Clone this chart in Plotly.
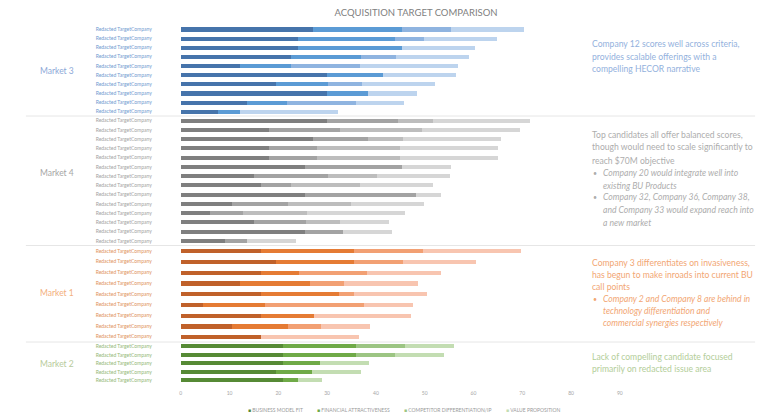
import plotly.graph_objects as go
from plotly.subplots import make_subplots

# ---------------- data ----------------
markets = ["Market 3", "Market 4", "Market 1", "Market 2"]
criteria = ["BUSINESS MODEL FIT", "FINANCIAL ATTRACTIVENESS",
            "COMPETITOR DIFFERENTIATION/IP", "VALUE PROPOSITION"]
company_label = "Redacted TargetCompany"

m3_bmf = [27, 24, 24, 22.5, 12, 30, 19.5, 30, 13.5, 7.5]
m3_fin = [18.2, 19.8, 21.2, 14.4, 10.6, 11.4, 10.7, 8.4, 8.3, 4.6]
m3_cmp = [10.1, 6, 0, 7.1, 14.1, 0, 6.9, 0, 14, 0]
m3_val = [15, 15, 15, 15, 20, 15, 15, 10, 10, 20]

m4_bmf = [30, 18, 27, 18, 18, 25.5, 15, 16.5, 25.5, 10.5, 6, 15, 25.5, 9]
m4_fin = [14.5, 14.5, 11.4, 9.9, 9.9, 19.8, 15.2, 6.1, 22.7, 11.4, 6.8, 10.6, 7.7, 4.5]
m4_cmp = [7.1, 16.9, 7.1, 17, 17, 0, 9.9, 14.1, 0, 12.9, 13.1, 7, 0, 0]
m4_val = [20, 20, 20, 20, 20, 10, 15, 15, 5, 15, 20, 10, 10, 10]

m1_bmf = [16.5, 19.5, 16.5, 12, 16.5, 4.5, 16.5, 10.5, 16.5]
m1_fin = [18.9, 15.9, 7.6, 14.5, 15.9, 12.8, 10.7, 11.4, 0]
m1_cmp = [14.2, 10.1, 14.1, 7, 3, 20.2, 0, 6.9, 0]
m1_val = [20, 15, 15, 15, 15, 10, 20, 10, 20]

m2_bmf = [21, 21, 21, 19.5, 21]
m2_fin = [14.9, 14.9, 7.5, 7.4, 2.9]
m2_cmp = [10, 8, 0, 0, 0]
m2_val = [10, 10, 10, 10, 5]

x_ticks = [0, 10, 20, 30, 40, 50, 60, 70, 80, 90]

# ---------------- styles ----------------
W, H = 782, 417
FONT = "Lato"

def px(x):
    return x / W

def py(y):
    return 1 - y / H

series = {
    "Market 3": [m3_bmf, m3_fin, m3_cmp, m3_val],
    "Market 4": [m4_bmf, m4_fin, m4_cmp, m4_val],
    "Market 1": [m1_bmf, m1_fin, m1_cmp, m1_val],
    "Market 2": [m2_bmf, m2_fin, m2_cmp, m2_val],
}
bar_colors = {
    "Market 3": ["#4674AB", "#5B9BD5", "#8FB4E0", "#BDD4EE"],
    "Market 4": ["#7F7F7F", "#A3A3A3", "#BDBDBD", "#D6D6D6"],
    "Market 1": ["#C0612A", "#E57B34", "#F2A073", "#F8C5B0"],
    "Market 2": ["#568A35", "#6FAA47", "#9CC583", "#C3DDB2"],
}
label_colors = {"Market 3": "#6F9AD0", "Market 4": "#A3A3A3",
                "Market 1": "#E0925C", "Market 2": "#93B878"}
market_colors = {"Market 3": "#8DA9D8", "Market 4": "#A6A6A6",
                 "Market 1": "#F3AF80", "Market 2": "#B7CB9C"}
note_colors = {"Market 3": "#93B1DD", "Market 4": "#ADADAD",
               "Market 1": "#F2A673", "Market 2": "#B3CE99"}
# vertical extent (px, top/bottom) of each market block
blocks = {"Market 3": (24.7, 116), "Market 4": (116, 245.5),
          "Market 1": (245.5, 342), "Market 2": (342, 384.5)}
market_label_y = {"Market 3": 71, "Market 4": 173, "Market 1": 293, "Market 2": 364}
BAR_PX = 4.2
X0, X1 = 180.7, 622

fig = make_subplots(rows=4, cols=1, shared_xaxes=True, vertical_spacing=0)

for r, m in enumerate(markets, start=1):
    vals = series[m]
    n = len(vals[0])
    top, bot = blocks[m]
    spacing = (bot - top) / n
    for k, crit in enumerate(criteria):
        fig.add_trace(go.Bar(
            x=vals[k], y=list(range(n)), orientation="h",
            name=crit, marker=dict(color=bar_colors[m][k], line=dict(width=0)),
            width=BAR_PX / spacing, showlegend=False,
            hovertemplate=m + " · " + crit + ": %{x}<extra></extra>",
        ), row=r, col=1)
    yname = "yaxis" if r == 1 else f"yaxis{r}"
    fig.update_layout({yname: dict(
        domain=[py(bot), py(top)], range=[n - 0.5, -0.5],
        tickvals=list(range(n)), ticktext=[company_label] * n,
        tickfont=dict(family=FONT, size=5, color=label_colors[m]),
        ticks="", showgrid=False, zeroline=False, showline=False,
        ticklabelstandoff=28,
    )})
    xname = "xaxis" if r == 1 else f"xaxis{r}"
    fig.update_layout({xname: dict(
        domain=[px(X0), px(X1)], range=[0, 90], tickvals=x_ticks,
        showgrid=False, zeroline=False, showline=False, ticks="",
        showticklabels=(r == 4),
        tickfont=dict(family=FONT, size=5, color="#A6A6A6"),
        ticklabelstandoff=4,
    )})

shapes = []
for m in ["Market 4", "Market 1", "Market 2"]:
    y = blocks[m][0]
    shapes.append(dict(type="line", xref="paper", yref="paper",
                       x0=px(25), x1=px(758), y0=py(y), y1=py(y),
                       line=dict(color="#E6E6E6", width=1)))

ann = []
for m in markets:
    ann.append(dict(text=m, x=px(56), y=py(market_label_y[m]), xref="paper", yref="paper",
                    showarrow=False, xanchor="center", yanchor="middle",
                    font=dict(family=FONT, size=8.5, color=market_colors[m])))

notes = [
    ("Market 3", 592, 44, "Company 12 scores well across criteria,", False),
    ("Market 3", 592, 56.5, "provides scalable offerings with a", False),
    ("Market 3", 592, 69, "compelling HECOR narrative", False),
    ("Market 4", 592.5, 134.5, "Top candidates all offer balanced scores,", False),
    ("Market 4", 592.5, 147.3, "though would need to scale significantly to", False),
    ("Market 4", 592.5, 160.5, "reach $70M objective", False),
    ("Market 4", 603, 173.3, "Company 20 would integrate well into", True),
    ("Market 4", 603, 185.5, "existing BU Products", True),
    ("Market 4", 603, 197.5, "Company 32, Company 36, Company 38,", True),
    ("Market 4", 603, 210, "and Company 33 would expand reach into", True),
    ("Market 4", 603, 223, "a new market", True),
    ("Market 1", 592.5, 262.7, "Company 3 differentiates on invasiveness,", False),
    ("Market 1", 592.5, 274.5, "has begun to make inroads into current BU", False),
    ("Market 1", 592.5, 286.7, "call points", False),
    ("Market 1", 603, 298.5, "Company 2 and Company 8 are behind in", True),
    ("Market 1", 603, 310.7, "technology differentiation and", True),
    ("Market 1", 603, 323, "commercial synergies respectively", True),
    ("Market 2", 592.5, 357.3, "Lack of compelling candidate focused", False),
    ("Market 2", 592.5, 369.3, "primarily on redacted issue area", False),
]
bullets = [("Market 4", 173.3), ("Market 4", 197.5), ("Market 1", 298.5)]
for m, x, y, t, it in notes:
    ann.append(dict(text=f"<i>{t}</i>" if it else t, x=px(x), y=py(y),
                    xref="paper", yref="paper", showarrow=False,
                    xanchor="left", yanchor="middle",
                    font=dict(family=FONT, size=8.6, color=note_colors[m])))
for m, y in bullets:
    ann.append(dict(text="•", x=px(593.5), y=py(y), xref="paper", yref="paper",
                    showarrow=False, xanchor="left", yanchor="middle",
                    font=dict(family=FONT, size=7, color=note_colors[m])))

legend_x = [246, 316, 403.5, 505.5]
for k, crit in enumerate(criteria):
    ann.append(dict(
        text=f'<span style="color:{bar_colors["Market 2"][k]}">■</span> {crit}',
        x=px(legend_x[k]), y=py(410), xref="paper", yref="paper",
        showarrow=False, xanchor="left", yanchor="middle",
        font=dict(family=FONT, size=5, color="#9A9A9A")))

fig.update_layout(
    width=W, height=H, barmode="stack", bargap=0,
    margin=dict(l=0, r=0, t=0, b=0),
    paper_bgcolor="white", plot_bgcolor="white",
    title=dict(text="ACQUISITION TARGET COMPARISON", x=416 / W, y=py(13),
               xanchor="center", yanchor="middle",
               font=dict(family=FONT, size=9.5, color="#808080")),
    shapes=shapes, annotations=ann, showlegend=False,
)

fig.write_html("out.html", config={"displayModeBar": False},
               post_script="document.body.style.margin='0';document.body.style.overflow='hidden';")
